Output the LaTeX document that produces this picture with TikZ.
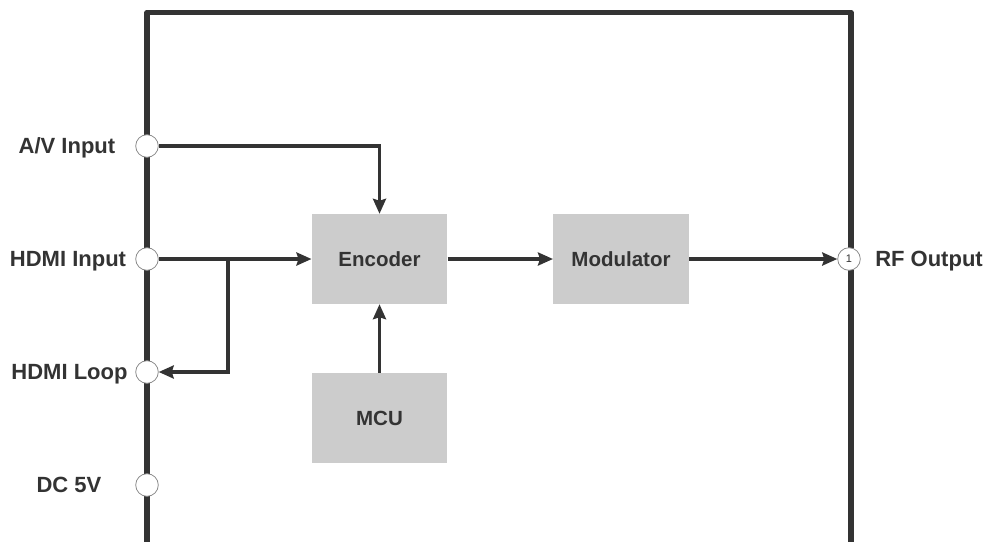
\documentclass[tikz,border=0pt]{standalone}
\usepackage{fontspec}
\setmainfont{Liberation Sans}
\usepackage{tikz}
\usetikzlibrary{arrows.meta}

\definecolor{ink}{HTML}{333333}
\definecolor{boxgray}{HTML}{CCCCCC}
\definecolor{rim}{HTML}{8C8C8C}

\tikzset{
  block/.style={fill=boxgray,minimum width=135.6pt,minimum height=90pt,inner sep=0pt,
    text height=14.7pt,text depth=0pt,text=ink,font=\fontsize{20.5}{24}\selectfont\bfseries},
  port/.style={circle,draw=rim,line width=0.8pt,fill=white,minimum size=22.6pt,inner sep=0pt},
  portlabel/.style={inner sep=0pt,text height=15.7pt,text depth=0pt,text=ink,
    font=\fontsize{22}{26}\selectfont\bfseries},
  wire/.style={draw=ink,line width=3.9pt,-{Stealth[length=15pt,width=13pt,inset=2pt]}},
  housing/.style={draw=ink,line width=5.5pt,line join=round}
}

\begin{document}
\begin{tikzpicture}[x=1pt,y=-1pt]
  \useasboundingbox (0,0) rectangle (987,541);
  \begin{scope}
    \path[housing] (147,545) -- (147,12.5) -- (851,12.5) -- (851,545);

    \node[port] (av) at (147,146) {};
    \node[port] (hdmi) at (147,259) {};
    \node[port] (loop) at (147,372) {};
    \node[port] (dc) at (147,485) {};
    \node[port,text=ink,font=\fontsize{11}{12}\selectfont] (rf) at (849,259) {1};

    \node[portlabel] (avlabel) at (67,146) {A/V Input};
    \node[portlabel] (hdmilabel) at (68,259) {HDMI Input};
    \node[portlabel] (looplabel) at (69.5,372) {HDMI Loop};
    \node[portlabel] (dclabel) at (69,485) {DC 5V};
    \node[portlabel] (rflabel) at (929,259) {RF Output};

    \node[block] (enc) at (379.5,259) {Encoder};
    \node[block] (mod) at (621,259) {Modulator};
    \node[block] (mcu) at (379.5,417.7) {MCU};

    \coordinate (tap) at (228,259);

    \path[wire] (av.east) -| (enc.north);
    \path[wire] (hdmi.east) -- (enc.west);
    \path[wire] (tap) |- (loop.east);
    \path[wire] (enc.east) -- (mod.west);
    \path[wire] (mod.east) -- (rf.west);
    \path[wire] (mcu.north) -- (enc.south);
  \end{scope}
\end{tikzpicture}
\end{document}
